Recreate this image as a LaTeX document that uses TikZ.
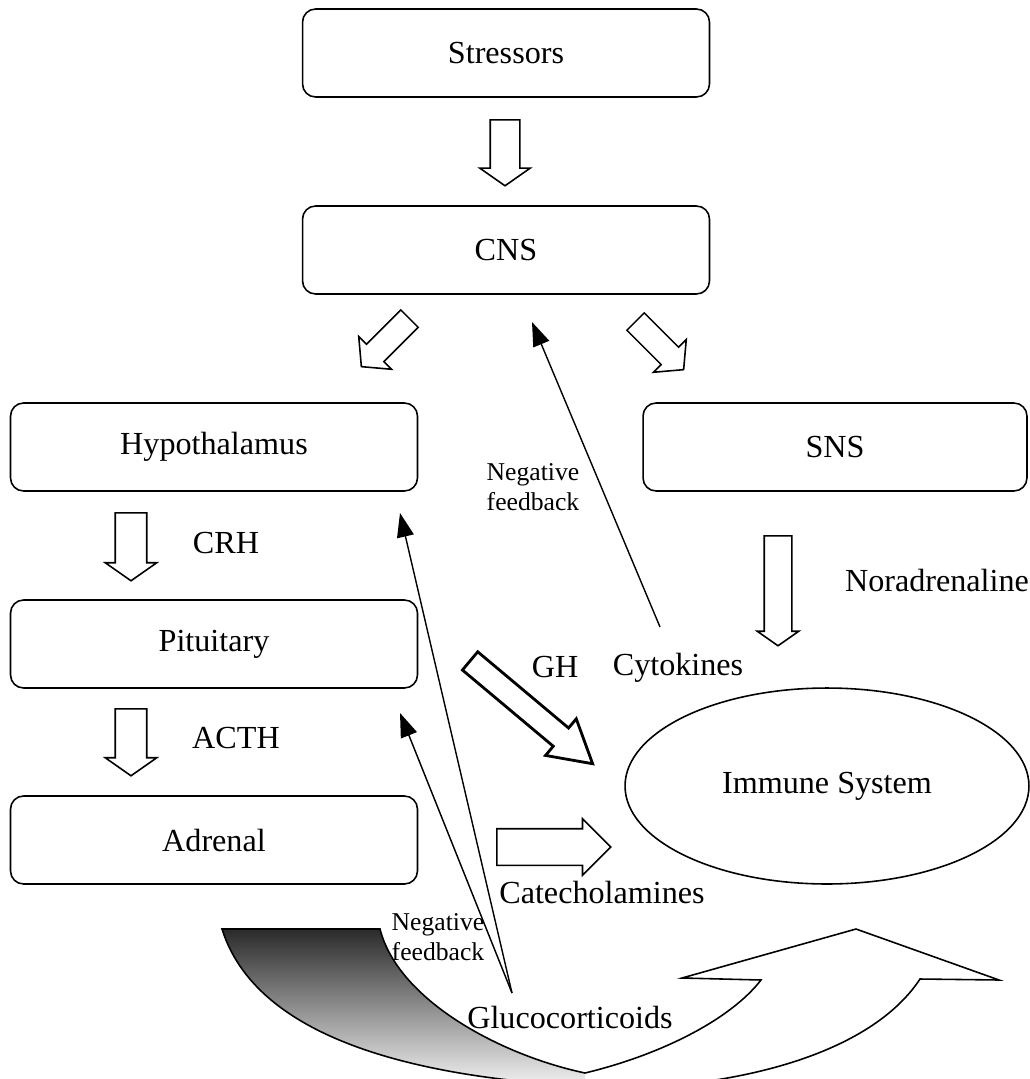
\documentclass[tikz,border=0pt]{standalone}
\usepackage{fontspec}
\setmainfont{Liberation Serif}
\usetikzlibrary{arrows.meta,shapes.geometric,shapes.arrows}

\begin{document}
\begin{tikzpicture}[
    x=0.02cm, y=-0.02cm,
    font=\fontsize{18.3}{22}\selectfont,
    organ/.style={draw, rectangle, rounded corners=0.26cm, line width=0.9pt, minimum width=8.14cm, minimum height=1.76cm},
    fatarr/.style={single arrow, draw, line width=0.9pt, fill=white, inner xsep=0pt, anchor=tail},
    downarr/.style={fatarr, rotate=-90, inner ysep=0.28cm, single arrow head extend=0.21cm, single arrow tip angle=110},
    diagarr/.style={fatarr, inner ysep=0.23cm, single arrow head extend=0.22cm, single arrow tip angle=100, minimum height=1.36cm},
    fbarr/.style={-{Triangle[length=0.48cm, width=0.34cm]}, line width=0.8pt},
    lbl/.style={font=\fontsize{14.6}{17}\selectfont, align=center, inner sep=0pt},
  ]
  \useasboundingbox (0,0) rectangle (1030,1079);

  % boxes
  \node[organ] (stress) at (506,53) {Stressors};
  \node[organ] (cns) at (506,250) {CNS};
  \node[organ] (hypo) at (214,447) {Hypothalamus};
  \node[organ] (pit) at (214,644) {Pituitary};
  \node[organ] (adr) at (214,840) {Adrenal};
  \node[organ, minimum width=7.68cm] (sns) at (835,447) {SNS};
  \node[draw, ellipse, line width=0.9pt, minimum width=8.08cm, minimum height=3.92cm, inner sep=0pt] (imm) at (827,786) {Immune System};

  % big curved arrow
  \draw[line width=0.9pt, fill=white,
        path picture={\shade[top color=black!85, middle color=black!50, bottom color=black!4] (210,926) rectangle (585,1080);}]
    (222,929) -- (380,929)
    .. controls (398,1000) and (500,1055) .. (585,1073)
    .. controls (660,1055) and (730,1020) .. (761,980)
    -- (682,978) -- (856,929) -- (999,980) -- (920,979)
    .. controls (880,1040) and (780,1080) .. (640,1088)
    .. controls (450,1085) and (260,1050) .. (222,929) -- cycle;

  % block arrows
  \node[downarr, minimum height=1.32cm] (a1) at (505,119) {};
  \node[downarr, minimum height=1.36cm, inner ysep=0.3cm, single arrow head extend=0.2cm] (a2) at (131,512) {};
  \node[downarr, minimum height=1.34cm, inner ysep=0.3cm, single arrow head extend=0.2cm] (a3) at (131,708) {};
  \node[downarr, minimum height=2.2cm, inner ysep=0.26cm, single arrow head extend=0.14cm] (a4) at (778,535) {};
  \node[diagarr, rotate=-135] (a5) at (410,318) {};
  \node[diagarr, rotate=-45] (a6) at (635,321) {};
  \node[fatarr, rotate=-40, line width=1.6pt, minimum height=3.2cm, inner ysep=0.21cm, single arrow head extend=0.24cm, single arrow tip angle=60] (a7) at (469,660) {};
  \node[fatarr, minimum height=2.28cm, inner ysep=0.35cm, single arrow head extend=0.2cm, single arrow tip angle=90] (a8) at (496,847) {};

  % labels
  \node (crh) at (226,543) {CRH};
  \node (acth) at (236,738) {ACTH};
  \node (nor) at (937,580) {Noradrenaline};
  \node (gh) at (555,667) {GH};
  \node (cyto) at (678,668) {Cytokines};
  \node (cat) at (602,892) {Catecholamines};
  \node (gluco) at (570,1017) {Glucocorticoids};
  \node[lbl] (nf1) at (533,487) {Negative\\feedback};
  \node[lbl] (nf2) at (438,937) {Negative\\feedback};

  % feedback lines
  \coordinate (hypfb) at (400,513);
  \coordinate (pitfb) at (400,713);
  \coordinate (cnsfb) at (532,322);
  \coordinate (glutop) at (512,993);
  \coordinate (cytop) at (660,627);
  \draw[fbarr] (glutop) -- (hypfb);
  \draw[fbarr] (glutop) -- (pitfb);
  \draw[fbarr] (cytop) -- (cnsfb);
\end{tikzpicture}
\end{document}
